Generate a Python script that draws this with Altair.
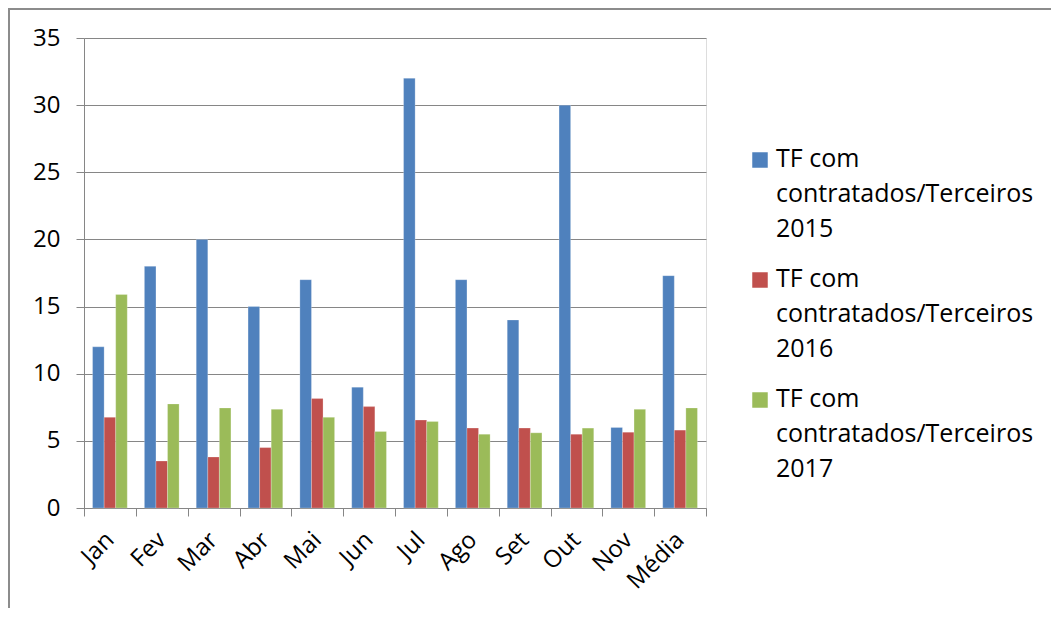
import altair as alt
import pandas as pd

months = ["Jan", "Fev", "Mar", "Abr", "Mai", "Jun", "Jul", "Ago", "Set", "Out", "Nov", "Média"]
series_names = [
    "TF com contratados/Terceiros 2015",
    "TF com contratados/Terceiros 2016",
    "TF com contratados/Terceiros 2017",
]
legend_lines = [
    ["TF com", "contratados/Terceiros", "2015"],
    ["TF com", "contratados/Terceiros", "2016"],
    ["TF com", "contratados/Terceiros", "2017"],
]
v2015 = [12, 18, 20, 15, 17, 9, 32, 17, 14, 30, 6, 17.3]
v2016 = [6.75, 3.5, 3.8, 4.5, 8.15, 7.55, 6.55, 5.95, 5.95, 5.5, 5.65, 5.8]
v2017 = [15.9, 7.75, 7.45, 7.35, 6.75, 5.7, 6.45, 5.5, 5.6, 5.95, 7.35, 7.45]
colors = ["#4F81BD", "#C0504D", "#9BBB59"]
y_ticks = [0, 5, 10, 15, 20, 25, 30, 35]

rows = []
for name, vals in zip(series_names, [v2015, v2016, v2017]):
    for m, v in zip(months, vals):
        rows.append({"month": m, "series": name, "value": v})
df = pd.DataFrame(rows)

legend_df = pd.DataFrame({"series": series_names, "lines": legend_lines})

FONT = "Open Sans"
FS = 24
LFS = 25
color_scale = alt.Scale(domain=series_names, range=colors)

bars = alt.Chart(df).mark_bar(stroke="white", strokeWidth=0.4, strokeOpacity=0.6).encode(
    x=alt.X(
        "month:N",
        sort=months,
        scale=alt.Scale(paddingInner=0, paddingOuter=0),
        axis=alt.Axis(
            title=None,
            labelAngle=-45,
            labelAlign="right",
            labelBaseline="middle",
            labelFontSize=FS,
            labelFont=FONT,
            labelColor="#000000",
            labelPadding=20,
            tickBand="extent",
            ticks=True,
            tickSize=8,
            tickColor="#868686",
            domainColor="#868686",
            grid=False,
        ),
    ),
    xOffset=alt.XOffset("series:N", sort=series_names,
                        scale=alt.Scale(paddingInner=0, paddingOuter=0.74)),
    y=alt.Y(
        "value:Q",
        scale=alt.Scale(domain=[0, 35], nice=False),
        axis=alt.Axis(
            title=None,
            values=y_ticks,
            labelFontSize=FS,
            labelFont=FONT,
            labelColor="#000000",
            labelPadding=16,
            tickSize=8,
            tickColor="#868686",
            domainColor="#868686",
            gridColor="#868686",
            gridWidth=1,
        ),
    ),
    color=alt.Color("series:N", scale=color_scale, legend=None),
)

leg_y = alt.Y("series:N", sort=series_names,
              scale=alt.Scale(range=[122, 362], padding=0), axis=None)

legend_sq = alt.Chart(legend_df).mark_square(size=240, opacity=1).encode(
    x=alt.value(676),
    y=leg_y,
    color=alt.Color("series:N", scale=color_scale, legend=None),
)

legend_txt = alt.Chart(legend_df).mark_text(
    align="left", baseline="top", fontSize=LFS, font=FONT, lineHeight=35,
    color="#000000", dy=-13,
).encode(
    x=alt.value(692),
    y=leg_y,
    text="lines",
)

frame_top = alt.Chart(legend_df).mark_rule(color="#8c8c8c", strokeWidth=2).encode(
    x=alt.value(-76), x2=alt.value(975), y=alt.value(-29)
)
frame_left = alt.Chart(legend_df).mark_rule(color="#8c8c8c", strokeWidth=2).encode(
    x=alt.value(-75), y=alt.value(-30), y2=alt.value(600)
)

chart = alt.layer(bars, legend_sq, legend_txt, frame_top, frame_left).resolve_scale(
    y="independent"
).properties(
    width=622,
    height=470,
    autosize=alt.AutoSizeParams(type="none"),
    padding={"left": 76, "top": 30, "right": 345, "bottom": 100},
).configure_view(stroke=None).configure(background="white")

chart.save("out.html", embed_options={"renderer": "svg", "actions": False})
